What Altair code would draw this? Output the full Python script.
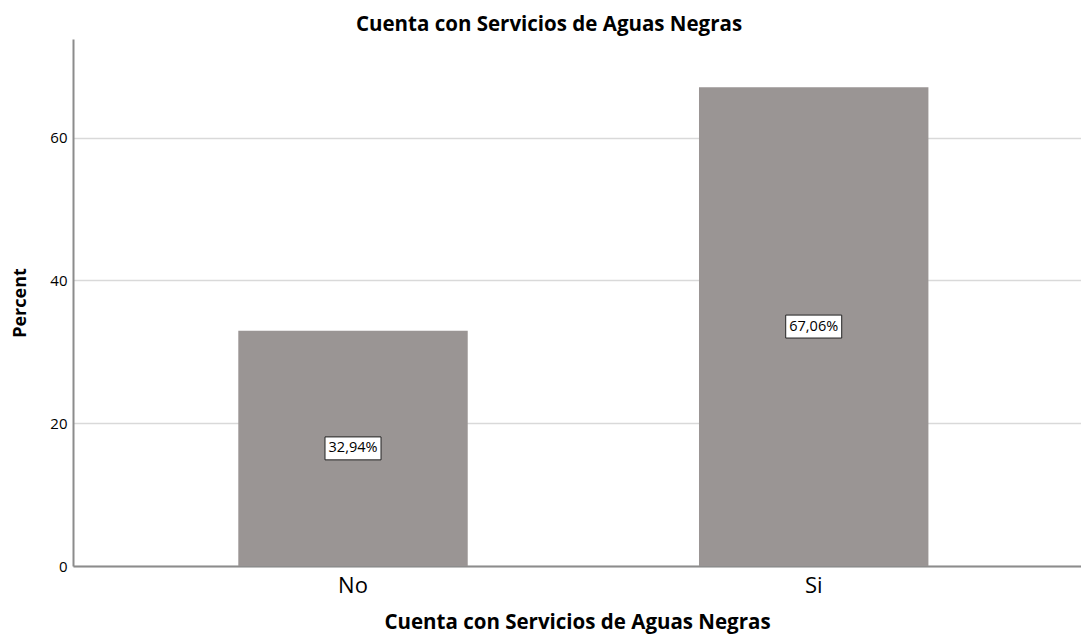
import altair as alt
import pandas as pd

categories = ["No", "Si"]
percents = [32.94, 67.06]
labels = ["32,94%", "67,06%"]

df = pd.DataFrame({"cat": categories, "pct": percents, "label": labels})
df["mid"] = df["pct"] / 2

FONT = "Open Sans"

x_enc = alt.X("cat:N", sort=categories,
              scale=alt.Scale(paddingInner=0.502, paddingOuter=0.345, align=0.52),
              axis=alt.Axis(title="Cuenta con Servicios de Aguas Negras", labelAngle=0,
                            labelFontSize=22, labelFont=FONT, labelColor="#000",
                            titleFontSize=20.5, titleFont=FONT, titleFontWeight="bold",
                            titleColor="#000", titlePadding=16,
                            ticks=False, domainColor="#8c8c8c", domainWidth=2,
                            labelPadding=9, grid=False))

y_scale = alt.Scale(domain=[0, 73.8], nice=False, zero=True)

bars = alt.Chart(df).mark_bar(color="#9a9594").encode(
    x=x_enc,
    y=alt.Y("pct:Q", scale=y_scale,
            axis=alt.Axis(title="Percent", values=[0, 20, 40, 60], ticks=False,
                          labelFontSize=15, labelFont=FONT, labelColor="#000",
                          labelPadding=6, titleFontSize=18, titleFont=FONT,
                          titleFontWeight="bold", titleColor="#000", titlePadding=20,
                          domainColor="#8c8c8c", domainWidth=2,
                          gridColor="#d9d9d9", gridWidth=1.5)),
)

box = alt.Chart(df).mark_point(
    shape="M-1,-0.41L1,-0.41L1,0.41L-1,0.41Z", size=3136,
    filled=True, fill="white", stroke="#222", strokeWidth=1, opacity=1,
).encode(
    x=alt.X("cat:N", sort=categories),
    y=alt.Y("mid:Q", scale=y_scale),
)

txt = alt.Chart(df).mark_text(font=FONT, fontSize=14.5, color="#000").encode(
    x=alt.X("cat:N", sort=categories),
    y=alt.Y("mid:Q", scale=y_scale),
    text="label:N",
)

chart = (bars + box + txt).properties(
    width=1008, height=527,
    title=alt.TitleParams("Cuenta con Servicios de Aguas Negras", font=FONT,
                          fontSize=20.5, fontWeight="bold", color="#000",
                          anchor="middle", frame="group", dx=-28, offset=4),
    autosize=alt.AutoSizeParams(type="none"),
    padding={"left": 65, "top": 31, "right": 0, "bottom": 69},
).configure_view(stroke=None)

chart.save("out.html", embed_options={"renderer": "svg", "actions": False})
